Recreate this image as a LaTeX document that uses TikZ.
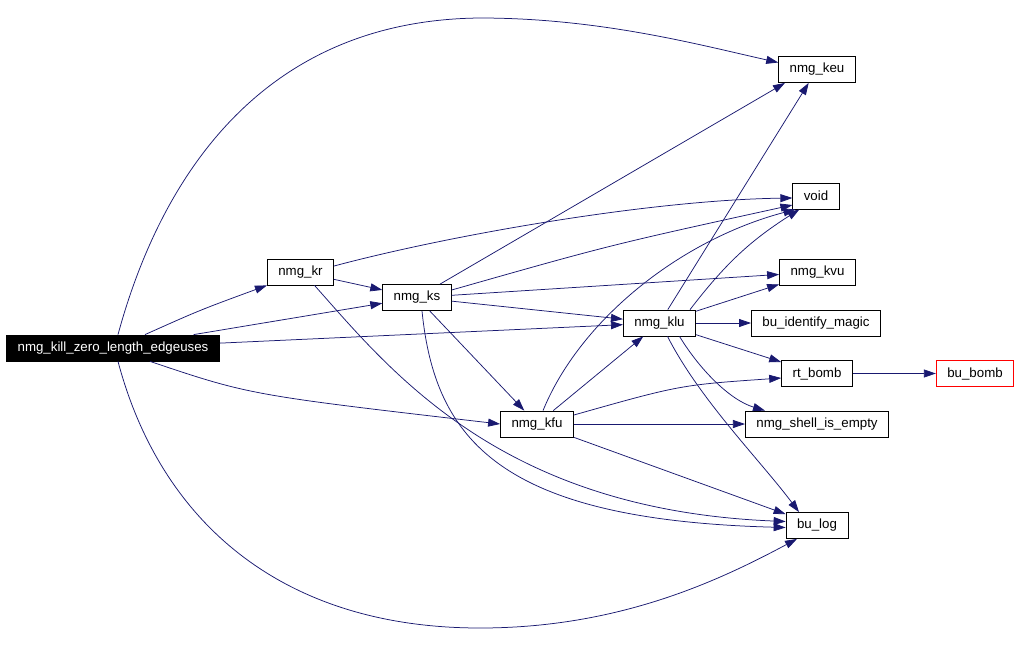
\documentclass[tikz,border=0pt]{standalone}
\usepackage{fontspec}
\setmainfont{Liberation Sans}
\usetikzlibrary{arrows.meta}
\definecolor{mblue}{HTML}{191970}
\definecolor{bred}{HTML}{FF0000}
\tikzset{
  box/.style={draw=black, line width=0.8pt, fill=white, minimum height=26pt, inner xsep=11pt, inner ysep=0pt, font=\fontsize{13.3}{15}\selectfont},
  mainbox/.style={box, fill=black, text=white},
  redbox/.style={box, draw=bred},
  edge/.style={draw=mblue, line width=0.75pt, -{Triangle[length=12pt,width=8pt]}},
}
\begin{document}
\begin{tikzpicture}[x=1pt,y=-1pt]
\useasboundingbox (0,0) rectangle (1019,645);
\node[mainbox] (main) at (113,348) {nmg\_kill\_zero\_length\_edgeuses};
\node[box] (kr) at (300.5,272) {nmg\_kr};
\node[box] (ks) at (417,297.5) {nmg\_ks};
\node[box] (kfu) at (537,424) {nmg\_kfu};
\node[box] (klu) at (659.5,323) {nmg\_klu};
\node[box] (keu) at (817,69.5) {nmg\_keu};
\node[box] (void) at (816,196) {void};
\node[box] (kvu) at (817.5,272) {nmg\_kvu};
\node[box] (bim) at (816,323) {bu\_identify\_magic};
\node[box] (rtb) at (817,373.5) {rt\_bomb};
\node[redbox] (bub) at (975,373.5) {bu\_bomb};
\node[box] (shell) at (817,424) {nmg\_shell\_is\_empty};
\node[box] (bulog) at (817,525.5) {bu\_log};

% from main
\draw[edge] ([xshift=5pt]main.north) .. controls (160,180) and (260,20) .. (480,18) .. controls (600,18) and (700,45) .. ([yshift=7pt]keu.west);
\draw[edge] ([xshift=5pt]main.south) .. controls (160,520) and (280,628) .. (480,628) .. controls (620,628) and (720,580) .. ([xshift=-20pt]bulog.south);
\draw[edge] ([xshift=32pt]main.north) .. controls (200,310) .. (kr.south west);
\draw[edge] (main) -- (ks);
\draw[edge] (main) -- (klu);
\draw[edge] ([xshift=37pt]main.south) .. controls (250,395) .. (kfu.west);

% from kr
\draw[edge] ([yshift=6pt]kr.east) .. controls (450,235) and (650,200) .. ([yshift=-2pt]void.west);
\draw[edge] (kr) -- (ks);
\draw[edge] ([xshift=14pt]kr.south) .. controls (390,370) and (500,510) .. ([yshift=4pt]bulog.west);

% from ks
\draw[edge] ([xshift=23pt]ks.north) -- ([xshift=-32pt]keu.south);
\draw[edge] ([yshift=7.5pt]ks.east) .. controls (610,245) .. ([yshift=-9pt]void.west);
\draw[edge] (ks) -- (kvu);
\draw[edge] (ks) -- (klu);
\draw[edge] (ks) -- (kfu);
\draw[edge] ([xshift=5pt]ks.south) .. controls (435,440) and (500,520) .. ([yshift=-2pt]bulog.west);

% from kfu
\draw[edge] ([xshift=6pt]kfu.north) .. controls (580,320) and (680,240) .. ([xshift=3pt]void.south west);
\draw[edge] (kfu) -- (klu);
\draw[edge] ([yshift=9pt]kfu.east) .. controls (680,385) .. ([yshift=-4.5pt]rtb.west);
\draw[edge] (kfu) -- (shell);
\draw[edge] (kfu) -- (bulog);

% from klu
\draw[edge] (klu) -- (keu);
\draw[edge] ([xshift=-6pt]klu.north east) to[bend left=10] ([xshift=7pt]void.south west);
\draw[edge] (klu) -- (kvu);
\draw[edge] (klu) -- (bim);
\draw[edge] (klu) -- (rtb);
\draw[edge] ([xshift=20pt]klu.south) .. controls (700,370) and (730,400) .. ([xshift=-52pt]shell.north);
\draw[edge] ([xshift=8pt]klu.south) .. controls (700,400) and (760,460) .. ([xshift=-18pt]bulog.north);

% from rt_bomb
\draw[edge] (rtb) -- (bub);
\end{tikzpicture}
\end{document}
